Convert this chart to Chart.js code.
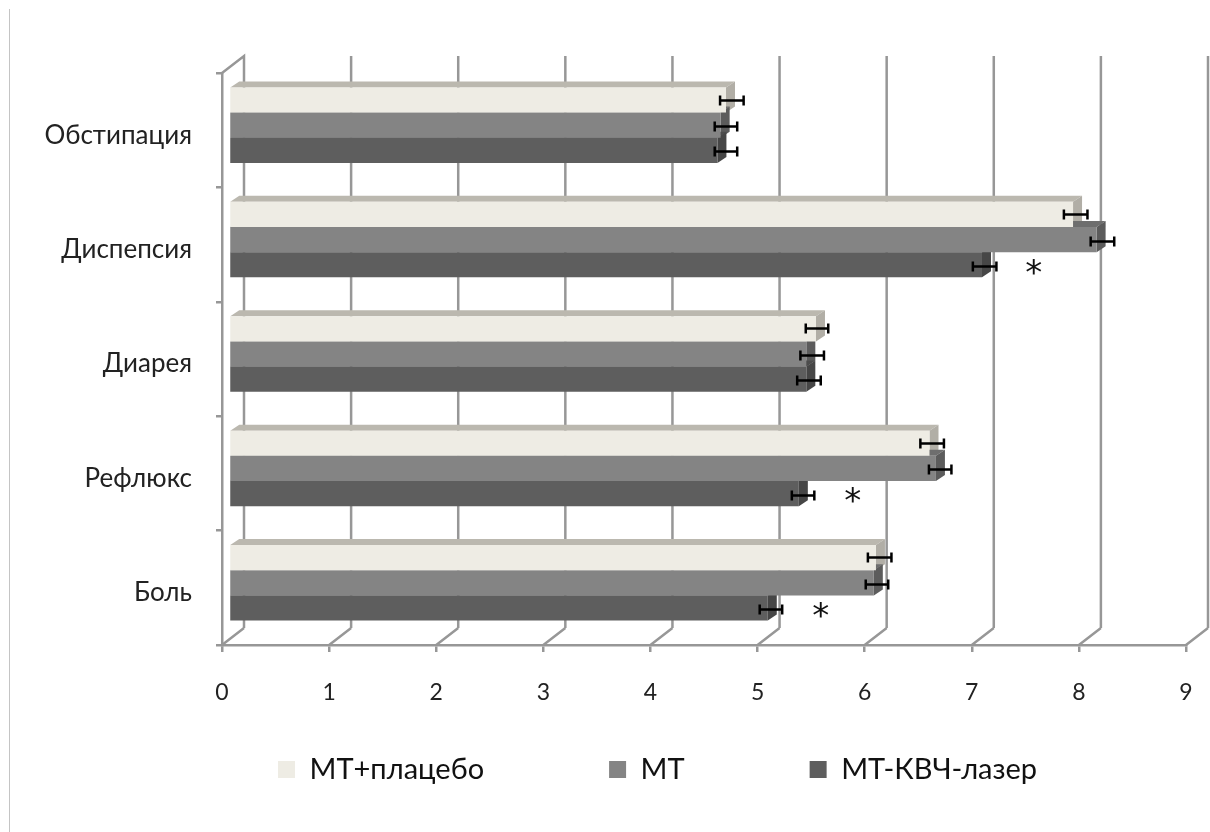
<!DOCTYPE html>
<html>
<head>
<meta charset="utf-8">
<style>
  html, body { margin: 0; padding: 0; background: #fff; }
  #edge { position: absolute; left: 9px; top: 9px; width: 1px; height: 823px; background: #c4c4c4; }
  canvas { display: block; }
</style>
<script src="https://cdn.jsdelivr.net/npm/chart.js@4/dist/chart.umd.min.js"></script>
</head>
<body>
<div id="edge"></div>
<canvas id="chart" width="1210" height="832"></canvas>
<script>
var categories = ['Обстипация', 'Диспепсия', 'Диарея', 'Рефлюкс', 'Боль'];
var seriesNames = ['МТ+плацебо', 'МТ', 'МТ-КВЧ-лазер'];

var placebo = [4.64, 7.88, 5.48, 6.54, 6.04];
var mt = [4.59, 8.10, 5.39, 6.60, 6.02];
var laser = [4.56, 7.03, 5.39, 5.32, 5.03];

// концы планок погрешности
var placeboLow = [4.65, 7.86, 5.45, 6.52, 6.03];
var placeboHigh = [4.87, 8.08, 5.66, 6.74, 6.25];
var mtLow = [4.60, 8.11, 5.40, 6.60, 6.01];
var mtHigh = [4.81, 8.33, 5.62, 6.81, 6.22];
var laserLow = [4.60, 7.01, 5.37, 5.32, 5.02];
var laserHigh = [4.81, 7.23, 5.59, 5.53, 5.23];

// звёздочки у значимых различий
var starCategories = [1, 3, 4];
var starValues = [7.57, 5.88, 5.58];

var frontColors = ['#eeece4', '#848484', '#5e5e5e'];
var topColors = ['#bbb8af', '#6e6e6e', '#4c4c4c'];
var sideColors = ['#b1aea6', '#5c5c5c', '#464646'];
var lineColor = '#979797';
var errLow = [placeboLow, mtLow, laserLow];
var errHigh = [placeboHigh, mtHigh, laserHigh];

// глубина стенки и глубина столбика, как в объёмной диаграмме Excel
var wallX = 22, wallY = -17;
var shiftX = 7, shiftY = -5;
var depthX = 9, depthY = -6;

function poly(ctx, pts, color) {
    ctx.fillStyle = color;
    ctx.beginPath();
    ctx.moveTo(pts[0][0], pts[0][1]);
    for (var i = 1; i < pts.length; i++) ctx.lineTo(pts[i][0], pts[i][1]);
    ctx.closePath();
    ctx.fill();
}

var fake3d = {
    id: 'fake3d',
    afterLayout: function (chart) {
        chart.legend.left = 153;
        chart.legend.right = 1210;
        chart.legend.top = 630;
    },
    beforeDatasetsDraw: function (chart) {
        var ctx = chart.ctx, xs = chart.scales.x, area = chart.chartArea;
        ctx.save();
        ctx.strokeStyle = lineColor;
        ctx.lineWidth = 2.5;
        xs.ticks.forEach(function (t) {
            var px = xs.getPixelForValue(t.value);
            ctx.beginPath();
            ctx.moveTo(px, area.bottom);
            ctx.lineTo(px + wallX, area.bottom + wallY);
            if (t.value === 0) {
                ctx.moveTo(px, area.top);
                ctx.lineTo(px + wallX, area.top + wallY);
                ctx.lineTo(px + wallX, area.bottom + wallY);
            } else {
                ctx.moveTo(px + wallX, area.top + wallY);
                ctx.lineTo(px + wallX, area.bottom + wallY);
            }
            ctx.stroke();
        });
        ctx.restore();

        ctx.save();
        ctx.translate(shiftX, shiftY);
        // верх и торец столбиков, передние грани рисует сама библиотека
        chart.data.datasets.forEach(function (ds, i) {
            chart.getDatasetMeta(i).data.forEach(function (bar) {
                var top = bar.y - bar.height / 2, bottom = bar.y + bar.height / 2;
                poly(ctx, [[bar.base, top], [bar.base + depthX, top + depthY], [bar.x + depthX, top + depthY], [bar.x, top]], topColors[i]);
                poly(ctx, [[bar.x, top], [bar.x + depthX, top + depthY], [bar.x + depthX, bottom + depthY], [bar.x, bottom]], sideColors[i]);
            });
        });
    },
    afterDatasetsDraw: function (chart) {
        var ctx = chart.ctx, xs = chart.scales.x;
        ctx.restore();

        ctx.save();
        ctx.strokeStyle = '#000';
        ctx.lineWidth = 2.5;
        var nudge = [-0.5, 1, 1];
        chart.data.datasets.forEach(function (ds, i) {
            chart.getDatasetMeta(i).data.forEach(function (bar, j) {
                var y = Math.round(bar.y + shiftY + nudge[i]) + 0.5;
                var a = xs.getPixelForValue(errLow[i][j]), b = xs.getPixelForValue(errHigh[i][j]);
                ctx.beginPath();
                ctx.moveTo(a, y); ctx.lineTo(b, y);
                ctx.moveTo(a, y - 5); ctx.lineTo(a, y + 5);
                ctx.moveTo(b, y - 5); ctx.lineTo(b, y + 5);
                ctx.stroke();
            });
        });
        ctx.fillStyle = '#111';
        ctx.font = '34px "DejaVu Sans"';
        ctx.textAlign = 'center';
        ctx.textBaseline = 'middle';
        starValues.forEach(function (v, k) {
            var bar = chart.getDatasetMeta(2).data[starCategories[k]];
            ctx.fillText('*', xs.getPixelForValue(v) + 1, bar.y + shiftY + 10);
        });
        ctx.restore();
    }
};

var datasets = [placebo, mt, laser].map(function (vals, i) {
    return {
        label: seriesNames[i],
        data: vals,
        backgroundColor: frontColors[i],
        borderWidth: 0,
        clip: false,
        categoryPercentage: 0.66,
        barPercentage: 1
    };
});

new Chart(document.getElementById('chart').getContext('2d'), {
    type: 'bar',
    data: { labels: categories, datasets: datasets },
    plugins: [fake3d],
    options: {
        indexAxis: 'y',
        responsive: false,
        animation: false,
        devicePixelRatio: 1,
        layout: { padding: { left: 0, top: 73, right: 24, bottom: 0 } },
        scales: {
            x: {
                min: 0,
                max: 9,
                afterFit: function (scale) {
                    scale.height = 147;
                    scale.paddingLeft = 0;
                    scale.paddingRight = 0;
                },
                grid: { drawOnChartArea: false, tickLength: 7, color: lineColor, lineWidth: 2.5 },
                border: { color: lineColor, width: 2.5 },
                ticks: { stepSize: 1, padding: 27, maxRotation: 0, color: '#222', font: { family: 'Lato', size: 23 } }
            },
            y: {
                afterFit: function (scale) { scale.width = 222; },
                grid: { drawOnChartArea: false, tickLength: 6, color: lineColor, lineWidth: 2.5 },
                border: { color: lineColor, width: 2.5 },
                ticks: { padding: 24, labelOffset: 5, color: '#222', font: { family: 'Lato', size: 26 } }
            }
        },
        plugins: {
            title: { display: false },
            tooltip: { enabled: false },
            legend: {
                position: 'bottom',
                align: 'start',
                maxHeight: 40,
                labels: {
                    boxWidth: 17,
                    boxHeight: 17,
                    padding: 125,
                    color: '#111',
                    font: { family: 'Lato', size: 29 }
                }
            }
        }
    }
});
</script>
</body>
</html>
